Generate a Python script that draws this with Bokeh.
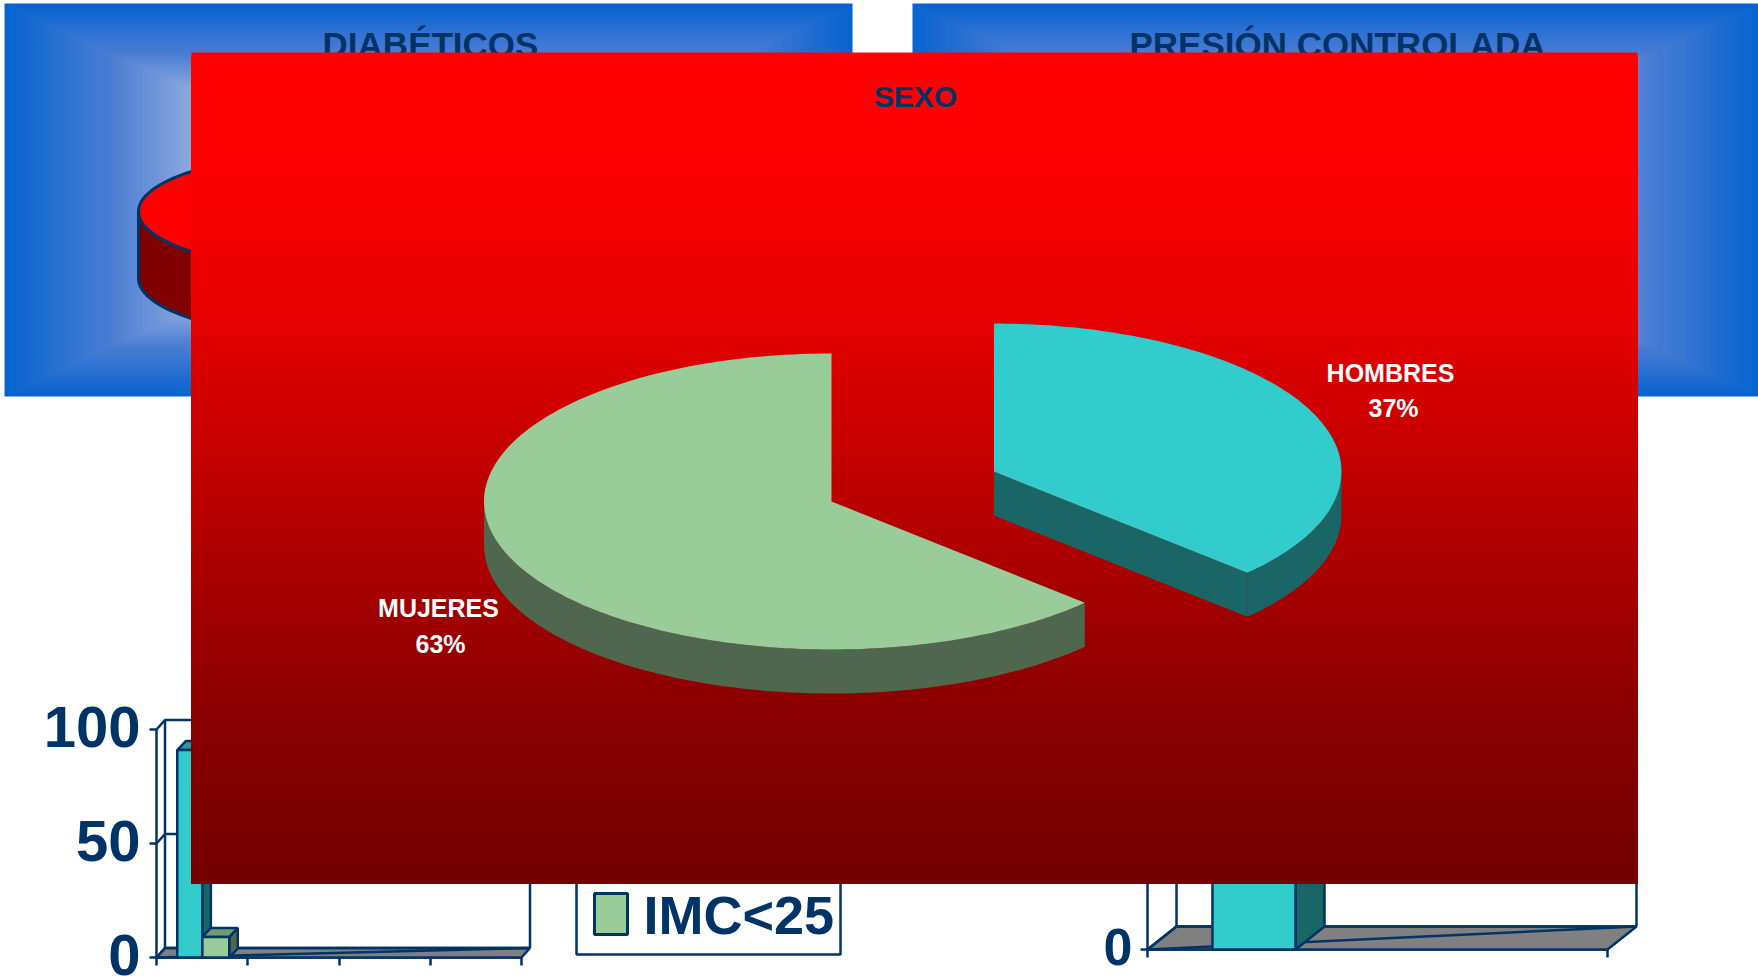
from bokeh.plotting import figure
from bokeh.embed import file_html
from bokeh.resources import INLINE
from bokeh.models import Range1d, LinearAxis, FixedTicker
from bokeh.core.properties import value
import numpy as np

# ---------- data ----------
SEXO_LABELS = ["MUJERES", "HOMBRES"]
SEXO_VALUES = [63, 37]
IMC_SERIES = ["IMC>25", "IMC<25"]
IMC_TOP = [91]
IMC_LOW = [9]
LEGEND_LABEL = "IMC<25"
IMC_TICKS = [0, 50, 100]
PRESION_VALUES = [80]      # top hidden behind the front panel
PRESION_TICKS = [0]
TITLE_LEFT = "DIABÉTICOS"
TITLE_RIGHT = "PRESIÓN CONTROLADA"
TITLE_FRONT = "SEXO"

# ---------- style ----------
NAVY = "#003366"
CYAN, CYAN_SIDE, CYAN_TOP = "#33cccc", "#1a6666", "#269999"
GREEN, GREEN_SIDE, GREEN_TOP = "#99cc99", "#4f664f", "#739973"
SANS = value("Liberation Sans")
LW = 2.5

W, H = 1758, 979
p = figure(width=W, height=H, output_backend="svg", toolbar_location=None,
           x_range=Range1d(0, W), y_range=Range1d(H, 0),
           x_axis_location=None, y_axis_location=None,
           min_border=0, outline_line_color=None, background_fill_color="white",
           border_fill_color="white", margin=0)
p.grid.visible = False


def scale_range(px0, px1, v0, v1, size):
    """Range for a value scale where v0 sits on pixel px0 and v1 on px1."""
    k = (v1 - v0) / (px1 - px0)
    return Range1d(v0 + (0 - px0) * k, v0 + (size - px0) * k)


def chart(tag, x0, x1, n_cat, y0, y100, ddx, ddy, ticks, label_ticks, label_size, label_right):
    """3-D style frame; returns functions from values to pixels."""
    p.extra_x_ranges[tag + "x"] = scale_range(x0, x1, 0, n_cat, W)
    p.extra_y_ranges[tag + "y"] = Range1d((y0 - H) / ((y0 - y100) / 100), y0 / ((y0 - y100) / 100))
    fy = lambda v: y0 - v * (y0 - y100) / 100
    fx = lambda c: x0 + c * (x1 - x0) / n_cat
    # floor
    p.patch([x0, x1, x1 + ddx, x0 + ddx], [y0, y0, y0 - ddy, y0 - ddy],
            fill_color="#808080", line_color=NAVY, line_width=LW)
    p.line([x0, x1 + ddx], [y0, y0 - ddy], line_color=NAVY, line_width=LW)
    # walls and grid
    for t in ticks:
        yy = fy(t)
        p.line([x0, x0 + ddx, x1 + ddx], [yy, yy - ddy, yy - ddy], line_color=NAVY, line_width=LW)
    p.line([x0 + ddx, x0 + ddx], [fy(max(ticks)) - ddy, y0 - ddy], line_color=NAVY, line_width=LW)
    p.line([x1 + ddx, x1 + ddx], [fy(max(ticks)) - ddy, y0 - ddy], line_color=NAVY, line_width=LW)
    # axes
    ya = LinearAxis(y_range_name=tag + "y", fixed_location=x0, level="underlay",
                    ticker=FixedTicker(ticks=label_ticks), bounds=(0, 100),
                    axis_line_color=NAVY, axis_line_width=LW,
                    major_tick_line_color=NAVY, major_tick_line_width=LW,
                    major_tick_in=0, major_tick_out=7, minor_tick_line_color=None,
                    major_label_text_color=None, major_label_text_font_size="1px")
    p.add_layout(ya, "left")
    p.text(x=[label_right] * len(label_ticks), y=label_ticks, text=[str(t) for t in label_ticks],
           y_range_name=tag + "y", y_offset=-3, text_font=SANS, text_font_style="bold",
           text_font_size=label_size, text_color=NAVY, text_align="right", text_baseline="alphabetic")
    xa = LinearAxis(x_range_name=tag + "x", fixed_location=y0, level="underlay",
                    ticker=FixedTicker(ticks=list(range(n_cat + 1))), bounds=(0, n_cat),
                    axis_line_color=NAVY, axis_line_width=LW,
                    major_tick_line_color=NAVY, major_tick_line_width=LW,
                    major_tick_in=0, major_tick_out=8, minor_tick_line_color=None,
                    major_label_text_color=None, major_label_text_font_size="1px")
    p.add_layout(xa, "below")
    return fx, fy


def bar3d(tag, fx, fy, cats, vals, width, ddx, ddy, front, side, top):
    cats = np.asarray(cats, float)
    for c, v in zip(cats, vals):
        l, r, t, b = fx(c - width / 2), fx(c + width / 2), fy(v), fy(0)
        p.patch([r, r + ddx, r + ddx, r], [b, b - ddy, t - ddy, t],
                fill_color=side, line_color=NAVY, line_width=LW)
        p.patch([l, r, r + ddx, l + ddx], [t, t, t - ddy, t - ddy],
                fill_color=top, line_color=NAVY, line_width=LW)
    p.vbar(x=cats, top=vals, bottom=0, width=width, fill_color=front, line_color=NAVY, line_width=LW,
           x_range_name=tag + "x", y_range_name=tag + "y")


# ---------- bottom-left chart ----------
fx, fy = chart("l", 156, 521, 4, 957, 729, 8.5, 9.5, IMC_TICKS, IMC_TICKS, "58px", 140)
bar3d("l", fx, fy, [0.365], IMC_TOP, 0.275, 8.5, 9, CYAN, CYAN_SIDE, CYAN_TOP)
bar3d("l", fx, fy, [0.65], IMC_LOW, 0.295, 8.5, 9, GREEN, GREEN_SIDE, GREEN_TOP)

# legend
p.quad(left=[576], right=[840], top=[760], bottom=[954], fill_color="white", line_color=NAVY, line_width=LW)
p.quad(left=[594], right=[627], top=[893], bottom=[934], fill_color=GREEN, line_color=NAVY, line_width=3)
p.text(x=[643], y=[914], text=[LEGEND_LABEL], text_font=SANS, text_font_style="bold",
       text_font_size="54px", text_color=NAVY, text_baseline="alphabetic", text_align="left")

# ---------- bottom-right chart ----------
fx2, fy2 = chart("r", 1147, 1607, 1, 949, 729, 29, 23, PRESION_TICKS + [100], PRESION_TICKS, "52px", 1132)
bar3d("r", fx2, fy2, [0.2315], PRESION_VALUES, 0.1805, 29, 23, CYAN, CYAN_SIDE, CYAN_TOP)


# ---------- blue panels (rectangular path gradient) ----------
def blue_panel(x0, x1, y0, y1):
    n = int((y1 - y0) / 2)
    ts = np.arange(n) / n
    r = np.interp(ts, [0, .25, .44, 1], [8, 75, 140, 205])
    g = np.interp(ts, [0, .25, .44, 1], [100, 125, 170, 220])
    b = np.interp(ts, [0, .25, .44, 1], [208, 212, 222, 245])
    cols = ["#%02x%02x%02x" % (int(a), int(c), int(d)) for a, c, d in zip(r, g, b)]
    hw, hh = (x1 - x0) / 2, (y1 - y0) / 2
    p.quad(left=x0 + ts * hw, right=x1 - ts * hw, top=y0 + ts * hh, bottom=y1 - ts * hh,
           fill_color=cols, line_color=None)


blue_panel(4, 852, 3, 396)
blue_panel(912, 1758, 3, 396)
for xc, tt in ((430, TITLE_LEFT), (1337, TITLE_RIGHT)):
    p.text(x=[xc], y=[44], text=[tt], text_font=SANS, text_font_style="bold",
           text_font_size="35px", text_color=NAVY, text_align="center", text_baseline="alphabetic")

# partly hidden red pie on the left blue panel
th = np.linspace(0, 2 * np.pi, 200)
ex, ey = 338 + 200 * np.cos(th), 211 + 59 * np.sin(th)
low = np.linspace(0, np.pi, 100)
p.patch(np.r_[338 + 200 * np.cos(low), 338 + 200 * np.cos(low[::-1])],
        np.r_[211 + 67 + 59 * np.sin(low), 211 + 59 * np.sin(low[::-1])],
        fill_color="#800000", line_color=NAVY, line_width=3)
p.patch(ex, ey, fill_color="#ff0000", line_color=NAVY, line_width=3)

# ---------- front red panel ----------
ys = np.arange(52, 883, 2)
reds = np.interp(ys, [52, 150, 300, 420, 720, 883], [255, 253, 234, 204, 136, 117])
p.quad(left=191, right=1637, top=ys, bottom=883,
       fill_color=["#%02x0000" % int(v) for v in reds], line_color=None)
p.text(x=[915], y=[96], text=[TITLE_FRONT], text_font=SANS, text_font_style="bold",
       text_font_size="30px", text_color=NAVY, text_align="center", text_baseline="alphabetic")

# ---------- 3-D exploded pie, angles from the values ----------
A, B, DEPTH = 347.5, 148, 44
CX, CY = 831, 501
EXPLODE = 177
frac = np.array(SEXO_VALUES, float) / sum(SEXO_VALUES)


def pt(cx, cy, deg):
    r = np.radians(deg)
    return cx + A * np.sin(r), cy - B * np.cos(r)


# MUJERES: counter-clockwise from 12 o'clock
end = 360 * (1 - frac[0])
th_w = np.linspace(end, 270, 90)
wx, wy = pt(CX, CY, th_w)
p.patch(np.r_[wx, wx[::-1]], np.r_[wy, wy[::-1] + DEPTH], fill_color=GREEN_SIDE, line_color=None)
th_t = np.linspace(end, 360, 180)
tx, ty = pt(CX, CY, th_t)
p.patch(np.r_[CX, tx], np.r_[CY, ty], fill_color=GREEN, line_color=None)

# HOMBRES: clockwise from 12 o'clock, pulled out along its mid angle
ang = 360 * frac[1]
mid = np.radians(ang / 2)
hx, hy = CX + EXPLODE * np.sin(mid), CY - EXPLODE * (B / A) * np.cos(mid)
tipx, tipy = pt(hx, hy, ang)
th_w = np.linspace(90, ang, 60)
wx, wy = pt(hx, hy, th_w)
p.patch(np.r_[wx, wx[::-1]], np.r_[wy, wy[::-1] + DEPTH], fill_color=CYAN_SIDE, line_color=None)
p.patch([hx, tipx, tipx, hx], [hy, tipy, tipy + DEPTH, hy + DEPTH], fill_color=CYAN_SIDE, line_color=None)
th_t = np.linspace(0, ang, 120)
tx, ty = pt(hx, hy, th_t)
p.patch(np.r_[hx, tx], np.r_[hy, ty], fill_color=CYAN, line_color=None)

# slice labels
for (lx, ly, txt) in ((438, 607, SEXO_LABELS[0]), (440, 643, f"{SEXO_VALUES[0]}%"),
                      (1390, 372, SEXO_LABELS[1]), (1393, 407, f"{SEXO_VALUES[1]}%")):
    p.text(x=[lx], y=[ly], text=[txt], text_font=SANS, text_font_style="bold", text_font_size="25px",
           text_color="white", text_align="center", text_baseline="alphabetic")

open("out.html", "w").write(file_html(p, INLINE))
